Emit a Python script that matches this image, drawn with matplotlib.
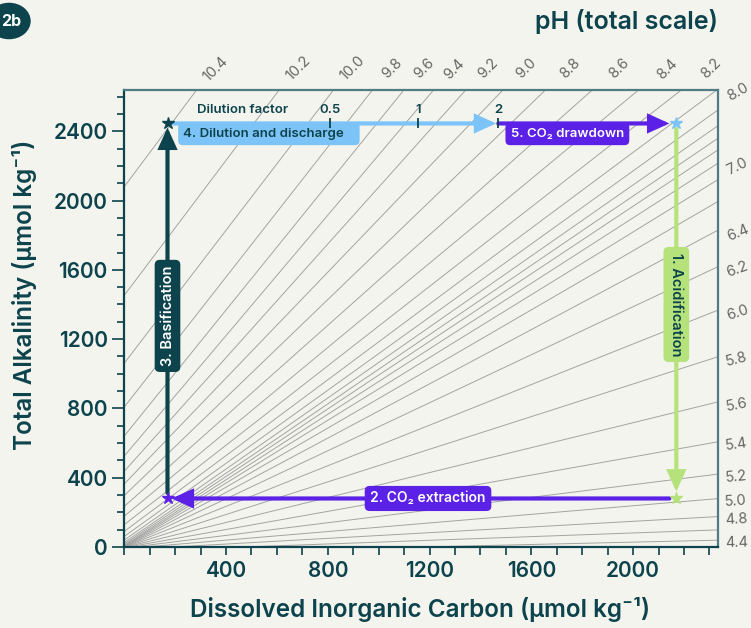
import math
import matplotlib
matplotlib.use("Agg")
import matplotlib.pyplot as plt
from matplotlib.patches import FancyArrowPatch, Circle
from matplotlib.ticker import MultipleLocator, FixedLocator
import numpy as np

plt.rcParams['font.family'] = ['Inter', 'DejaVu Sans']

BG = '#F4F4EE'
TEAL = '#0D434C'
EDGE = '#4D7C83'
PURPLE = '#5B21E6'
BLUE = '#7CC3F7'
GREEN = '#B5E27A'
ISO = '#A3A3A3'
PH_TXT = '#666666'

# pH isopleths (total scale): TA = slope * DIC + offset
ph_values = [10.4, 10.2, 10.0, 9.8, 9.6, 9.4, 9.2, 9.0, 8.8, 8.6, 8.4, 8.2,
             8.0, 7.8, 7.6, 7.4, 7.2, 7.0, 6.8, 6.6, 6.4, 6.2, 6.0, 5.8,
             5.6, 5.4, 5.2, 5.0, 4.8, 4.6, 4.4]
ph_slope = [1.964, 1.947, 1.918, 1.876, 1.817, 1.738, 1.640, 1.528, 1.414,
            1.307, 1.217, 1.146, 1.094, 1.055, 1.025, 1.000, 0.975, 0.945,
            0.906, 0.853, 0.783, 0.693, 0.586, 0.471, 0.360, 0.262, 0.183,
            0.124, 0.082, 0.053, 0.034]
ph_offset = [2080, 1453, 1061, 808, 641, 525, 437, 364, 297, 234, 178, 129,
             90, 61, 40, 26, 17, 10, 6.5, 4, 2, 1, 0, -1, -2.5, -4, -6.3,
             -10, -15.8, -25, -40]

top_labels = [10.4, 10.2, 10.0, 9.8, 9.6, 9.4, 9.2, 9.0, 8.8, 8.6, 8.4, 8.2]
right_labels = [8.0, 7.0, 6.4, 6.2, 6.0, 5.8, 5.6, 5.4, 5.2, 5.0, 4.8, 4.4]

# corners of the process loop (DIC, TA in umol/kg)
dic_low, dic_high = 170, 2170
ta_low, ta_high = 280, 2445

dilution_factors = ['0.5', '1', '2']
dilution_dic = [810, 1155, 1470]

XMAX, YMAX = 2332, 2640

fig = plt.figure(figsize=(7.51, 6.28), dpi=100, facecolor=BG)
ax = fig.add_axes([0.16545, 0.129, 0.79, 0.7282])
ax.set_facecolor(BG)
ax.set_xlim(0, XMAX)
ax.set_ylim(0, YMAX)

# pixel per data unit, for placing labels along the isopleths
sx = 0.79 * 751 / XMAX
sy = 0.7282 * 628 / YMAX

xs = np.array([-100.0, XMAX + 100.0])
for ph, m, b in zip(ph_values, ph_slope, ph_offset):
    ax.plot(xs, m * xs + b, color=ISO, lw=0.7, zorder=1)
    ang = math.degrees(math.atan(m * sy / sx))
    if ph in top_labels:
        xt = (YMAX - b) / m
        dy = 21
        dx = dy / math.tan(math.radians(ang))
        ax.annotate(f'{ph:.1f}', xy=(xt, YMAX), xytext=(dx * 0.72 + 2, dy * 0.72),
                    textcoords='offset points', rotation=45, ha='center',
                    va='center', fontsize=10.5, color=PH_TXT,
                    annotation_clip=False)
    if ph in right_labels:
        yr = m * XMAX + b
        ax.annotate(f'{ph:.1f}', xy=(XMAX, yr), xytext=(5, -2),
                    textcoords='offset points', rotation=ang * 0.8,
                    ha='left', va='center', fontsize=10.5, color=PH_TXT,
                    annotation_clip=False)

# axes styling
for side in ['left', 'bottom']:
    ax.spines[side].set_color(TEAL)
    ax.spines[side].set_linewidth(1.6)
for side in ['top', 'right']:
    ax.spines[side].set_color(EDGE)
    ax.spines[side].set_linewidth(1.6)

ax.xaxis.set_major_locator(FixedLocator([400, 800, 1200, 1600, 2000]))
ax.xaxis.set_minor_locator(MultipleLocator(100))
ax.yaxis.set_major_locator(MultipleLocator(400))
ax.yaxis.set_minor_locator(MultipleLocator(100))
ax.tick_params(axis='x', which='both', length=6, width=1.2, color=TEAL,
               labelsize=15, labelcolor=TEAL, pad=4)
ax.tick_params(axis='y', which='major', length=9, width=1.2, color=TEAL,
               labelsize=15, labelcolor=TEAL, pad=3)
ax.tick_params(axis='y', which='minor', length=5, width=1.2, color=TEAL)
for lab in ax.get_xticklabels() + ax.get_yticklabels():
    lab.set_fontweight('semibold')

# process arrows
def arrow(p0, p1, color, sa, sb):
    a = FancyArrowPatch(p0, p1, arrowstyle='-|>,head_length=1.1,head_width=0.5',
                        mutation_scale=10, lw=3, color=color, shrinkA=sa,
                        shrinkB=sb, zorder=4, joinstyle='miter')
    ax.add_patch(a)

arrow((dic_high, ta_high), (dic_high, ta_low), GREEN, 4, 5)
arrow((dic_high, ta_low), (dic_low, ta_low), PURPLE, 5, 3)
arrow((dic_low, ta_low), (dic_low, ta_high), TEAL, 4, 3)
arrow((dic_low, ta_high), (dilution_dic[-1], ta_high), BLUE, 4, 1.5)
arrow((dilution_dic[-1], ta_high), (dic_high, ta_high), PURPLE, 0, 5)

ax.plot([dic_low], [ta_high], marker='*', ms=9, color=TEAL, zorder=6)
ax.plot([dic_low], [ta_low], marker='*', ms=9, color=PURPLE, zorder=6)
ax.plot([dic_high], [ta_high], marker='*', ms=9, color=BLUE, zorder=6)
ax.plot([dic_high], [ta_low], marker='*', ms=9, color=GREEN, zorder=6)

def box(color, pad=0.4):
    return dict(boxstyle=f'round,pad={pad},rounding_size=0.35', fc=color,
                ec='none')

ax.text(dic_high, 1400, '1. Acidification', rotation=-90, ha='center',
        va='center', fontsize=10.5, fontweight='semibold', color=TEAL,
        bbox=box(GREEN), zorder=5)
ax.text(1194, ta_low, '2. CO₂ extraction', ha='center', va='center',
        fontsize=10, fontweight='semibold', color='white', bbox=box(PURPLE),
        zorder=5)
ax.text(dic_low, 1334, '3. Basification', rotation=90, ha='center',
        va='center', fontsize=10.5, fontweight='semibold', color='white',
        bbox=box(TEAL), zorder=5)
ax.annotate('4. Dilution and discharge' + ' ' * 3, xy=(dic_low, ta_high),
            xytext=(11.5, -7.5), textcoords='offset points', ha='left',
            va='center', fontsize=9.5, fontweight='semibold', color=TEAL,
            bbox=box(BLUE), zorder=5)
ax.annotate('5. CO₂ drawdown', xy=(dilution_dic[-1], ta_high),
            xytext=(9, -7.5), textcoords='offset points', ha='left',
            va='center', fontsize=9.5, fontweight='semibold', color='white',
            bbox=box(PURPLE), zorder=5)

# dilution factor scale
ax.plot(dilution_dic, [ta_high] * len(dilution_dic), ls='none', marker='|',
        ms=7, mew=1.3, color=TEAL, zorder=5)
for d, lab in zip(dilution_dic, dilution_factors):
    ax.annotate(lab, xy=(d, ta_high), xytext=(0, 9.5),
                textcoords='offset points', ha='center', va='center',
                fontsize=9.5, fontweight='semibold', color=TEAL)
ax.annotate('Dilution factor', xy=(dic_low, ta_high), xytext=(21, 9.5),
            textcoords='offset points', ha='left', va='center',
            fontsize=9.5, fontweight='semibold', color=TEAL)

# titles
fig.text(25 / 751, 1 - 295 / 628, 'Total Alkalinity (µmol kg⁻¹)',
         rotation=90, ha='center', va='center', fontsize=17.5,
         fontweight='semibold', color=TEAL)
fig.text(420 / 751, 1 - 610 / 628, 'Dissolved Inorganic Carbon (µmol kg⁻¹)',
         ha='center', va='center', fontsize=17.5, fontweight='semibold',
         color=TEAL)
fig.text(718 / 751, 1 - 22 / 628, 'pH (total scale)', ha='right',
         va='center', fontsize=18, fontweight='semibold', color=TEAL)

# panel badge
fig.patches.append(Circle((9 / 751, 1 - 21 / 628), 21 / 751, color=TEAL,
                          transform=fig.transFigure, figure=fig))
fig.text(11 / 751, 1 - 21 / 628, '2b', ha='center', va='center',
         fontsize=11.5, fontweight='bold', color='white')

fig.savefig('out.png', dpi=100, facecolor=BG)
